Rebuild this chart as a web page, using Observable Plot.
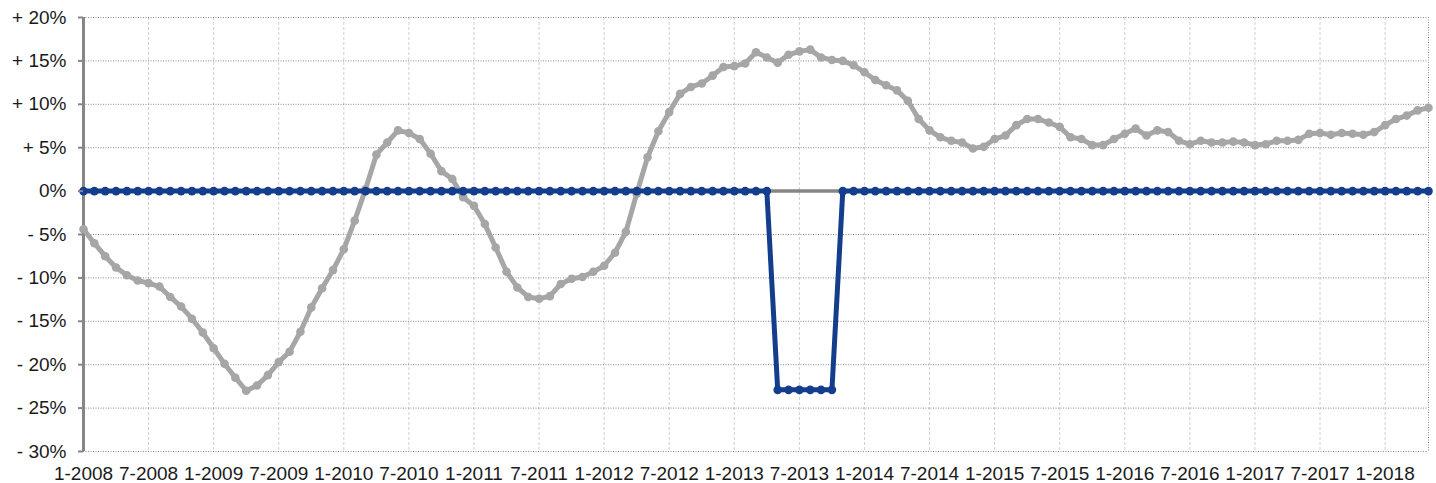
<!DOCTYPE html>
<html>
<head>
<meta charset="utf-8">
<script src="https://cdn.jsdelivr.net/npm/d3@7"></script>
<script src="https://cdn.jsdelivr.net/npm/@observablehq/plot@0.6"></script>
<style>
  html, body { margin: 0; padding: 0; background: #fff; }
  #chart svg { display: block; }
</style>
</head>
<body>
<div id="chart"></div>
<script>
// Monthly index 0 = 1-2008 ... 124 = 5-2018
const grayValues = [
  -4.4, -6.0, -7.5, -8.8, -9.7, -10.3, -10.6, -11.0, -12.2, -13.3, -14.7, -16.3,
  -18.1, -19.9, -21.5, -23.0, -22.4, -21.2, -19.7, -18.5, -16.2, -13.4, -11.2, -9.1,
  -6.7, -3.4, 0.2, 4.2, 5.6, 7.0, 6.7, 6.0, 4.3, 2.3, 1.4, -0.7,
  -1.7, -3.8, -6.5, -9.3, -11.1, -12.2, -12.4, -12.1, -10.7, -10.1, -9.9, -9.3,
  -8.6, -7.1, -4.7, -0.3, 3.9, 6.9, 9.1, 11.2, 12.0, 12.4, 13.3, 14.3,
  14.4, 14.7, 16.0, 15.4, 14.8, 15.7, 16.1, 16.3, 15.4, 15.1, 15.0, 14.5,
  13.7, 12.8, 12.2, 11.6, 10.4, 8.3, 7.0, 6.2, 5.8, 5.6, 4.9, 5.1,
  6.0, 6.4, 7.6, 8.3, 8.3, 7.9, 7.4, 6.2, 6.0, 5.3, 5.3, 6.0,
  6.6, 7.2, 6.4, 7.0, 6.8, 5.8, 5.4, 5.8, 5.6, 5.6, 5.7, 5.6,
  5.3, 5.4, 5.8, 5.8, 5.9, 6.6, 6.7, 6.5, 6.7, 6.6, 6.5, 6.8,
  7.6, 8.3, 8.7, 9.3, 9.6
];
const blueValues = [
  0,0,0,0,0,0,0,0,0,0,0,0,
  0,0,0,0,0,0,0,0,0,0,0,0,
  0,0,0,0,0,0,0,0,0,0,0,0,
  0,0,0,0,0,0,0,0,0,0,0,0,
  0,0,0,0,0,0,0,0,0,0,0,0,
  0,0,0,0,-22.9,-22.9,-22.9,-22.9,-22.9,-22.9,0,0,
  0,0,0,0,0,0,0,0,0,0,0,0,
  0,0,0,0,0,0,0,0,0,0,0,0,
  0,0,0,0,0,0,0,0,0,0,0,0,
  0,0,0,0,0,0,0,0,0,0,0,0,
  0,0,0,0,0
];
const xTickLabels = [
  "1-2008","7-2008","1-2009","7-2009","1-2010","7-2010","1-2011","7-2011",
  "1-2012","7-2012","1-2013","7-2013","1-2014","7-2014","1-2015","7-2015",
  "1-2016","7-2016","1-2017","7-2017","1-2018"
];
const yTicks = [-30, -25, -20, -15, -10, -5, 0, 5, 10, 15, 20];

const xTicks = xTickLabels.map((_, i) => i * 6);
const grayData = grayValues.map((v, i) => ({i, v}));
const blueData = blueValues.map((v, i) => ({i, v}));
const lastIndex = grayValues.length - 1;

const fmtY = d => d > 0 ? "+ " + d + "%" : d < 0 ? "- " + Math.abs(d) + "%" : "0%";

const GRAY = "#a6a6a6";
const BLUE = "#143d8c";
const AXIS = "#868686";

const chart = Plot.plot({
  width: 1436,
  height: 483,
  marginLeft: 83,
  marginRight: 8,
  marginTop: 17,
  marginBottom: 32,
  style: {fontFamily: "'Liberation Sans', Arial, Helvetica, sans-serif", fontSize: "19px", color: "#1a1a1a", background: "#fff"},
  x: {domain: [0, lastIndex]},
  y: {domain: [-30, 20]},
  marks: [
    // vertical grid
    Plot.ruleX(xTicks.filter(t => t > 0), {stroke: "#d0d0d0", strokeWidth: 1, strokeDasharray: "3,2"}),
    // horizontal grid
    Plot.ruleY(yTicks, {stroke: "#8a8a8a", strokeWidth: 1, strokeDasharray: "1,1.5"}),
    // right border
    Plot.ruleX([lastIndex], {stroke: "#8a8a8a", strokeWidth: 1, strokeDasharray: "1,1.5"}),
    // zero line
    Plot.ruleY([0], {stroke: AXIS, strokeWidth: 3.5}),
    // y axis line
    Plot.ruleX([0], {stroke: AXIS, strokeWidth: 3}),
    // gray series
    Plot.line(grayData, {x: "i", y: "v", stroke: GRAY, strokeWidth: 5}),
    Plot.dot(grayData, {x: "i", y: "v", fill: GRAY, r: 4.3}),
    // blue series
    Plot.line(blueData, {x: "i", y: "v", stroke: BLUE, strokeWidth: 5}),
    Plot.dot(blueData, {x: "i", y: "v", fill: BLUE, r: 4.3}),
    Plot.axisY({ticks: yTicks, tickFormat: fmtY, tickSize: 5, tickPadding: 12, stroke: AXIS, strokeWidth: 2, label: null}),
    Plot.axisX({ticks: xTicks, tickFormat: d => xTickLabels[d / 6], tickSize: 0, tickPadding: 15, label: null})
  ]
});
document.getElementById("chart").appendChild(chart);
</script>
</body>
</html>
